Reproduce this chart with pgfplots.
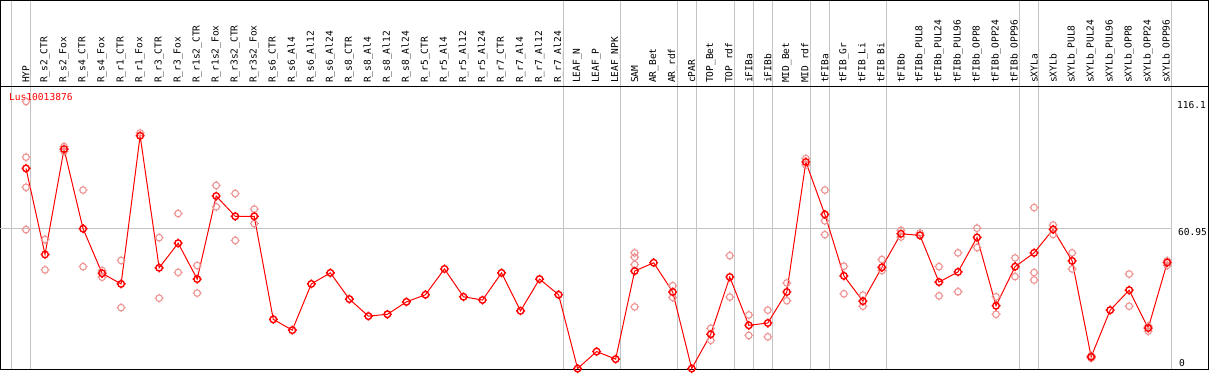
\documentclass[border=0pt]{standalone}
\usepackage{fontspec}
\setmonofont{DejaVu Sans Mono}
\usepackage{pgfplots}
\usepackage{pgfplotstable}
\pgfplotsset{compat=1.18}
\newcommand\lab{\ttfamily\fontsize{9.6}{10}\selectfont}
\definecolor{rep}{RGB}{238,145,145}
\definecolor{grid}{RGB}{195,195,195}
\pgfdeclareplotmark{gear}{%
  \pgfpathcircle{\pgfpointorigin}{3.3bp}%
  \pgfpathmoveto{\pgfqpoint{0bp}{3.3bp}}\pgfpathlineto{\pgfqpoint{0bp}{4.5bp}}%
  \pgfpathmoveto{\pgfqpoint{0bp}{-3.3bp}}\pgfpathlineto{\pgfqpoint{0bp}{-4.5bp}}%
  \pgfpathmoveto{\pgfqpoint{3.3bp}{0bp}}\pgfpathlineto{\pgfqpoint{4.5bp}{0bp}}%
  \pgfpathmoveto{\pgfqpoint{-3.3bp}{0bp}}\pgfpathlineto{\pgfqpoint{-4.5bp}{0bp}}%
  \pgfusepathqstroke}

\pgfplotstableread{
x y
0 87.0
1 49.6
2 95.4
3 60.8
4 41.4
5 36.8
6 101.2
7 43.8
8 54.5
9 38.9
10 75.0
11 66.2
12 66.2
13 21.4
14 16.7
15 36.8
16 41.6
17 30.2
18 22.8
19 23.6
20 29.0
21 32.1
22 43.3
23 31.2
24 29.8
25 41.6
26 25.1
27 38.9
28 32.1
29 0
30 7.4
31 4.1
32 42.4
33 46.0
34 33.3
35 0
36 14.9
37 39.8
38 18.8
39 19.8
40 33.3
41 89.8
42 67.0
43 40.3
44 29.3
45 44.0
46 58.6
47 57.9
48 37.6
49 42.0
50 57.0
51 27.3
52 44.3
53 50.3
54 60.5
55 46.8
56 5.1
57 25.4
58 34.1
59 17.6
60 46.1
}\meandata

\pgfplotstableread{
x y
0 116.1
0 91.9
0 78.8
0 60.4
1 56.1
1 42.9
2 96.5
2 94.4
3 77.6
3 44.3
4 42.6
4 39.7
5 47.0
5 26.5
6 102.4
7 56.9
7 30.6
8 67.4
8 41.8
9 44.8
9 32.8
10 79.6
10 70.3
11 76.1
11 55.7
12 69.3
12 63.0
32 50.3
32 48.4
32 45.2
32 26.8
34 36.0
34 30.9
36 17.5
36 12.3
37 49.1
37 31.1
38 23.3
38 14.4
39 25.4
39 13.8
40 37.2
40 29.5
41 91.3
41 88.5
42 77.6
42 64.2
42 58.2
43 44.5
43 32.5
44 31.9
44 27.1
45 47.4
45 42.6
46 60.1
46 57.2
47 58.9
48 44.3
48 31.6
49 50.3
49 33.4
50 61.0
50 52.6
51 31.2
51 23.6
52 48.1
52 40.0
53 70.0
53 41.7
53 38.5
54 62.4
54 58.3
55 50.3
55 43.3
56 4.5
56 5.6
58 41.1
58 27.1
59 16.3
59 18.4
60 44.9
60 46.8
}\repdata

\begin{document}
\begin{tikzpicture}
\begin{axis}[
  width=1208bp, height=283bp, scale only axis,
  xmin=-1.341, xmax=62.17, ymin=-0.22, ymax=122.8,
  axis line style={black, line width=1bp},
  clip=false,
  ytick=\empty,
  xtick={0,...,60},
  xticklabel pos=right,
  xtick style={draw=none},
  xticklabel shift=3bp,
  xticklabel style={rotate=90, anchor=west, inner sep=0pt, font=\lab},
  xticklabels={HYP,R\_s2\_CTR,R\_s2\_Fox,R\_s4\_CTR,R\_s4\_Fox,R\_r1\_CTR,R\_r1\_Fox,R\_r3\_CTR,R\_r3\_Fox,R\_r1s2\_CTR,R\_r1s2\_Fox,R\_r3s2\_CTR,R\_r3s2\_Fox,R\_s6\_CTR,R\_s6\_Al4,R\_s6\_Al12,R\_s6\_Al24,R\_s8\_CTR,R\_s8\_Al4,R\_s8\_Al12,R\_s8\_Al24,R\_r5\_CTR,R\_r5\_Al4,R\_r5\_Al12,R\_r5\_Al24,R\_r7\_CTR,R\_r7\_Al4,R\_r7\_Al12,R\_r7\_Al24,LEAF\_N,LEAF\_P,LEAF\_NPK,SAM,AR\_Bet,AR\_rdf,cPAR,TOP\_Bet,TOP\_rdf,iFIBa,iFIBb,MID\_Bet,MID\_rdf,tFIBa,tFIB\_Gr,tFIB\_Li,tFIB\_Bi,tFIBb,tFIBb\_PUL8,tFIBb\_PUL24,tFIBb\_PUL96,tFIBb\_OPP8,tFIBb\_OPP24,tFIBb\_OPP96,sXYLa,sXYLb,sXYLb\_PUL8,sXYLb\_PUL24,sXYLb\_PUL96,sXYLb\_OPP8,sXYLb\_OPP24,sXYLb\_OPP96},
]
% group separators
\pgfplotsinvokeforeach{-0.76,0.24,28.24,31.24,34.24,35.24,37.24,38.24,39.24,41.24,42.24,45.24,52.24,53.24,60.24}{
  \draw[grid, line width=1bp] (axis cs:#1,-0.22) -- (axis cs:#1,160);
}
\draw[grid, line width=1bp] (axis cs:-1.341,60.95) -- (axis cs:60.24,60.95);
% header frame
\draw[black, line width=1bp] (axis cs:-1.341,122.8) rectangle (axis cs:62.17,160);
% replicates
\addplot[only marks, mark=gear, color=rep, mark options={line width=1.1bp}] table[x=x,y=y] {\repdata};
% mean profile
\addplot[red, line width=1bp, mark=gear, mark options={line width=1.4bp, solid}] table[x=x,y=y] {\meandata};
% labels
\node[anchor=west, inner sep=0pt, font=\lab, text=red] at (axis cs:-0.894,118.0) {Lus10013876};
\node[anchor=north west, inner sep=0pt, font=\lab] at (axis cs:60.51,116.1) {116.1};
\node[anchor=north west, inner sep=0pt, font=\lab] at (axis cs:60.56,60.95) {60.95};
\node[anchor=base west, inner sep=0pt, font=\lab] at (axis cs:60.62,1.0) {0};
\end{axis}
\end{tikzpicture}
\end{document}
